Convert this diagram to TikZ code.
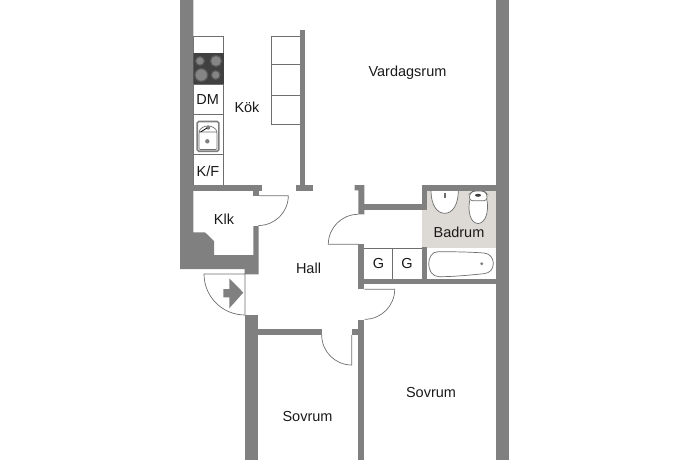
\documentclass[tikz,border=0pt]{standalone}
\usepackage{fontspec}
\setmainfont{Liberation Sans}
\definecolor{wallgray}{HTML}{808080}
\definecolor{linegray}{HTML}{6E6E6E}
\definecolor{floorgray}{HTML}{DDD9D4}
\definecolor{stovedark}{HTML}{404040}
\tikzset{
  wall/.style={fill=wallgray,draw=none},
  fixture/.style={draw=linegray,line width=0.7pt,fill=white},
  doorleaf/.style={draw=linegray,line width=0.7pt},
  burner/.style={draw=black!65,line width=1.2pt,fill=black!48},
  roomlabel/.style={font=\fontsize{14.5}{16}\selectfont,text=black!90,inner sep=0pt}
}
\begin{document}
\begin{tikzpicture}[x=1pt,y=-1pt]
    \useasboundingbox (0,0) rectangle (690,460);

    % bathroom floor
    \fill[floorgray] (421.7,210) rectangle (496,247.5);
    \fill[floorgray] (427.3,190.7) rectangle (496,210);

    % kitchen
    \draw[fixture] (193.3,36.7) rectangle (223.7,185);
    \draw[doorleaf] (193.3,84) -- (223.7,84) (193.3,114.3) -- (223.7,114.3) (193.3,154.3) -- (223.7,154.3);
    \fill[stovedark] (193.3,53.3) rectangle (223.7,84);
    \foreach \cx/\cy/\rad in {200/61/4.4,216/61/5.6,201.3/75/6.4,215.7/75/4.4}
      \draw[burner] (\cx,\cy) circle (\rad);
    \draw[fill=white,draw=wallgray,line width=1.6pt,rounded corners=1.5pt] (197.2,121.5) rectangle (218.8,151.2);
    \draw[doorleaf,rounded corners=1pt] (199,132) rectangle (217,149.5);
    \draw[doorleaf] (199,132) .. controls (201,124) and (215,124) .. (217,132);
    \fill[wallgray] (208.3,127.7) circle (2);
    \fill[wallgray] (207.3,141.3) circle (2.2);
    \draw[black,line width=0.8pt] (200.5,132) -- (207,128);

    % upper cupboards
    \draw[fixture] (271.7,36.7) rectangle (300,124.3);
    \draw[doorleaf] (271.7,64) -- (300,64) (271.7,95) -- (300,95);

    % wardrobes and bathroom fittings
    \draw[doorleaf] (364.3,248.3) -- (421.7,248.3) (392.3,248.3) -- (392.3,279);
    \draw[fixture] (431,190.7) .. controls (431,205) and (437,213.3) .. (444.7,213.3) .. controls (452.4,213.3) and (458.3,205) .. (458.3,190.7);
    \fill[linegray] (443.7,193) rectangle (445.7,198);
    \draw[fixture] (470,199) .. controls (467,212) and (471,223.5) .. (478,223.5) .. controls (485,223.5) and (489.5,212) .. (486.7,199) -- cycle;
    \draw[fixture,rounded corners=3pt] (469.5,200.7) -- (469.5,194) -- (473,191) -- (484,191) -- (487,194) -- (487,200.7) -- cycle;
    \fill[stovedark] (478,195.3) ellipse (3 and 1.5);
    \fill[white] (427.3,247.5) rectangle (496,279);
    \draw[fixture] (438,251.7) .. controls (455,251.7) and (470,252) .. (484,253) .. controls (490,253.5) and (493.3,258) .. (493.3,263.5) .. controls (493.3,269) and (490,273) .. (484,273.7) .. controls (470,275) and (455,276.7) .. (439,276.7) .. controls (432,276.7) and (428.7,270) .. (428.7,264) .. controls (428.7,257.5) and (432,251.7) .. (438,251.7) -- cycle;
    \fill[wallgray] (481.7,263.7) circle (1.6);

    % doors
    \draw[doorleaf] (259,195.7) -- (288.3,195.7) arc[start angle=0,end angle=90,radius=29.8];
    \draw[doorleaf] (358.3,214.3) arc[start angle=270,end angle=180,radius=30] -- (358.3,244.3);
    \draw[doorleaf] (364.3,289.3) -- (394.7,289.3) arc[start angle=0,end angle=90,radius=30];
    \draw[doorleaf] (321.7,335) arc[start angle=180,end angle=90,radius=30] -- (351.7,335);
    \draw[doorleaf] (245,269) -- (245,315) arc[start angle=90,end angle=180,radius=41] -- (245,274);
    \fill[wallgray] (223.3,289) -- (229.3,289) -- (229.3,278.3) -- (243.3,292.6) -- (229.3,308.3) -- (229.3,297.3) -- (223.3,297.3) -- cycle;

    % walls
    \fill[wall] (180,0) -- (193.3,0) -- (193.3,232.3) -- (205,232.3) -- (214,241) -- (214,255) -- (253.3,255) -- (253.3,226) -- (258.7,226) -- (258.7,274.3) -- (245,274.3) -- (245,269) -- (180,269) -- cycle;
    \fill[wall] (193.3,185) rectangle (261.7,190.7);
    \fill[wall] (253,190.7) rectangle (259.3,195.7);
    \fill[wall] (300,30) rectangle (305.3,185);
    \fill[wall] (296,185) rectangle (312.7,191);
    \fill[wall] (245,315) rectangle (258.3,460);
    \fill[wall] (258.3,329) rectangle (321.7,335);
    \fill[wall] (351.7,329) rectangle (358.3,335);
    \fill[wall] (358.3,319.5) rectangle (364.3,460);
    \fill[wall] (354.7,185) -- (364.3,185) -- (364.3,214.3) -- (358.3,214.3) -- (358.3,190.3) -- (354.7,190.3) -- cycle;
    \fill[wall] (364.3,204) rectangle (421.7,210);
    \fill[wall] (421.7,185) rectangle (496,190.7);
    \fill[wall] (421.7,190.7) rectangle (427.3,210);
    \fill[wall] (421.7,247.3) rectangle (427.3,279);
    \fill[wall] (358.3,244.3) rectangle (364.3,289.3);
    \fill[wall] (364.3,279) rectangle (496,284);
    \fill[wall] (496,0) rectangle (509.3,460);

    % labels
    \node[roomlabel] (vardagsrum) at (407.5,73)  {Vardagsrum};
    \node[roomlabel] (kok)        at (247,107.5) {Kök};
    \node[roomlabel] (dm)         at (207.7,100) {DM};
    \node[roomlabel] (kf)         at (208,171)   {K/F};
    \node[roomlabel] (klk)        at (224,219.5) {Klk};
    \node[roomlabel] (hall)       at (308.5,268) {Hall};
    \node[roomlabel] (badrum)     at (459,232)   {Badrum};
    \node[roomlabel] (g1)         at (378.5,264) {G};
    \node[roomlabel] (g2)         at (407,264)   {G};
    \node[roomlabel] (sovrum1)    at (307.5,416.5) {Sovrum};
    \node[roomlabel] (sovrum2)    at (431,392.5) {Sovrum};
\end{tikzpicture}
\end{document}
